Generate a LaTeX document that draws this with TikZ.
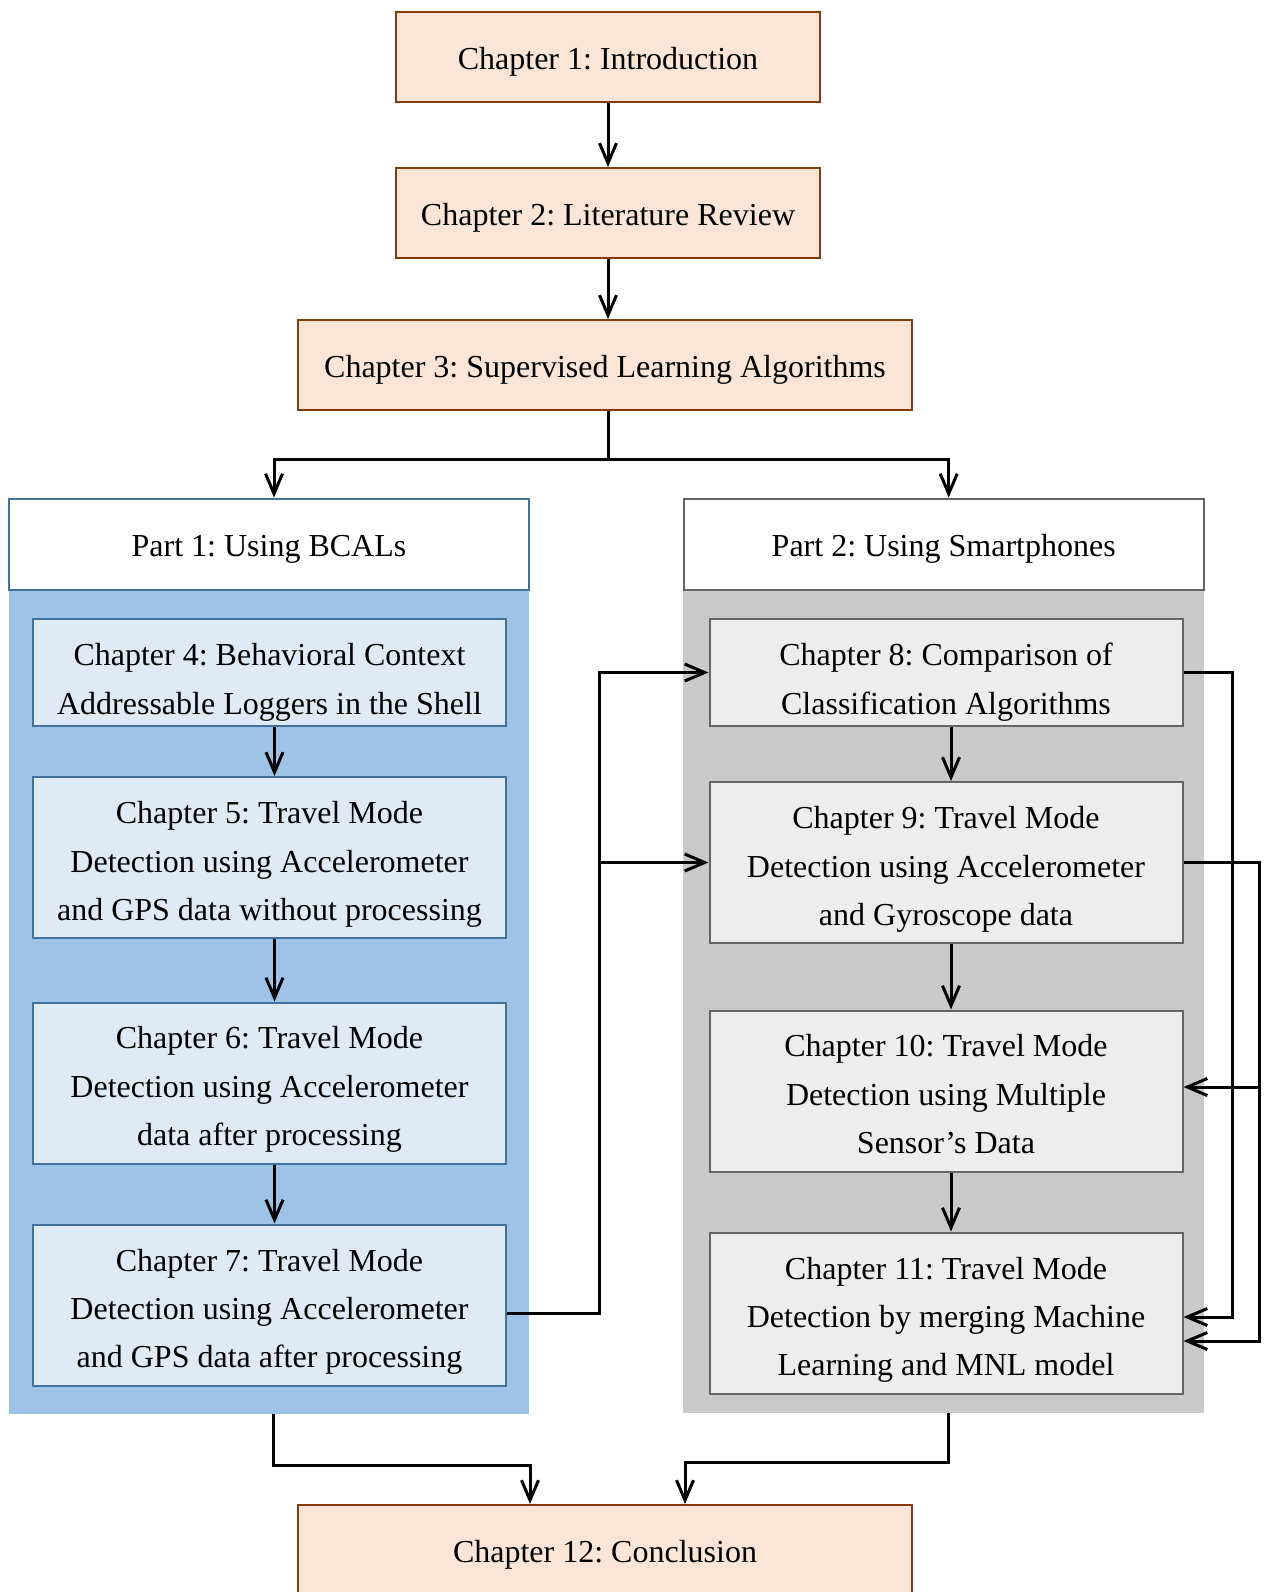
\documentclass[tikz,border=0pt]{standalone}
\usepackage{fontspec}
\setmainfont{Liberation Serif}
\usetikzlibrary{positioning,calc}
\usetikzlibrary{arrows.meta}
\definecolor{PeachFill}{RGB}{251,229,214}
\definecolor{RustLine}{RGB}{132,60,12}
\definecolor{SkyPanel}{RGB}{157,195,230}
\definecolor{SkyFill}{RGB}{222,235,247}
\definecolor{SkyLine}{RGB}{65,113,156}
\definecolor{AshPanel}{RGB}{201,201,201}
\definecolor{AshFill}{RGB}{237,237,237}
\definecolor{AshLine}{RGB}{100,100,100}
\frenchspacing
% first line strut, pushes the text of a box down
\newcommand{\lift}[1]{\rule{0pt}{#1}}
\tikzset{
  chap/.style={draw=RustLine,fill=PeachFill,line width=1pt,minimum height=45pt,
    text height=16pt,text depth=3.5pt,align=center},
  head/.style={fill=white,line width=1pt,minimum width=260pt,minimum height=45.5pt,
    text height=16pt,text depth=3.5pt},
  sub/.style={line width=1pt,minimum width=236.5pt,minimum height=80.5pt,inner sep=0pt,align=center},
  twoline/.style={minimum height=53.5pt},
  panel/.style={draw=none,inner sep=0pt},
  link/.style={draw=black,line width=1.5pt},
  arr/.style={link,-{Straight Barb[length=10pt,width=8.5pt,line width=1.5pt]}},
}

\begin{document}
\begin{tikzpicture}[x=0.5pt,y=-0.5pt,font=\fontsize{16}{24.2}\selectfont]
\useasboundingbox (0,0) rectangle (1265,1592);
% top chapters
\node[chap,minimum width=212pt] (ch1) at (608,57) {Chapter 1: Introduction};
\node[chap,minimum width=212pt] (ch2) at (608,213) {Chapter 2: Literature Review};
\node[chap,minimum width=307pt] (ch3) at (605,365) {Chapter 3: Supervised Learning Algorithms};
% part 1
\node[panel,fill=SkyPanel,minimum width=260pt,minimum height=412pt] (pan1) at (269,1002) {};
\node[head,draw=SkyLine] (part1) at (269,544) {Part 1: Using BCALs};
\node[sub,twoline,draw=SkyLine,fill=SkyFill] (ch4) at (269.5,672.5) {\lift{21pt}Chapter 4: Behavioral Context\\Addressable Loggers in the Shell};
\node[sub,draw=SkyLine,fill=SkyFill] (ch5) at (269.5,857.5) {\lift{18pt}Chapter 5: Travel Mode\\Detection using Accelerometer\\and GPS data without processing};
\node[sub,draw=SkyLine,fill=SkyFill] (ch6) at (269.5,1083) {\lift{17.5pt}Chapter 6: Travel Mode\\Detection using Accelerometer\\data after processing};
\node[sub,draw=SkyLine,fill=SkyFill] (ch7) at (269.5,1305) {\lift{18pt}Chapter 7: Travel Mode\\Detection using Accelerometer\\and GPS data after processing};
% part 2
\node[panel,fill=AshPanel,minimum width=260.5pt,minimum height=411.5pt] (pan2) at (943.7,1001.5) {};
\node[head,draw=AshLine] (part2) at (943.7,544) {Part 2: Using Smartphones};
\node[sub,twoline,draw=AshLine,fill=AshFill] (ch8) at (946,672.5) {\lift{21pt}Chapter 8: Comparison of\\Classification Algorithms};
\node[sub,draw=AshLine,fill=AshFill] (ch9) at (946,862.5) {\lift{18pt}Chapter 9: Travel Mode\\Detection using Accelerometer\\and Gyroscope data};
\node[sub,draw=AshLine,fill=AshFill] (ch10) at (946,1091) {\lift{14.5pt}Chapter 10: Travel Mode\\Detection using Multiple\\Sensor’s Data};
\node[sub,draw=AshLine,fill=AshFill] (ch11) at (946,1313) {\lift{18pt}Chapter 11: Travel Mode\\Detection by merging Machine\\Learning and MNL model};
% conclusion
\node[chap,minimum width=307pt] (ch12) at (605,1550) {Chapter 12: Conclusion};

% connectors
\coordinate (split) at (608,459);
\draw[arr] (ch1) -- (ch2);
\draw[arr] (ch2.south) -- (ch2.south |- ch3.north);
\draw[link] (ch3.south -| split) -- (split);
\draw[arr] (split) -| ([xshift=2.5pt]part1.north);
\draw[arr] (split) -| ([xshift=2.5pt]part2.north);
\draw[arr] ([xshift=2.5pt]ch4.south) -- ([xshift=2.5pt]ch5.north);
\draw[arr] ([xshift=2.5pt]ch5.south) -- ([xshift=2.5pt]ch6.north);
\draw[arr] ([xshift=2.5pt]ch6.south) -- ([xshift=2.5pt]ch7.north);
\draw[arr] ([xshift=2.5pt]ch8.south) -- ([xshift=2.5pt]ch9.north);
\draw[arr] ([xshift=2.5pt]ch9.south) -- ([xshift=2.5pt]ch10.north);
\draw[arr] ([xshift=2.5pt]ch10.south) -- ([xshift=2.5pt]ch11.north);
% cross links
\coordinate (busL) at (599,1313);
\coordinate (busR1) at (1232,0);
\coordinate (busR2) at (1259,0);
\draw[arr] ([yshift=-4pt]ch7.east) -- ([yshift=-4pt]ch7.east -| busL) |- (ch8.west);
\draw[arr] (busL |- ch9.west) -- (ch9.west);
\draw[arr] (ch8.east) -- (ch8.east -| busR1) |- ([yshift=-2pt]ch11.east);
\draw[arr] (ch9.east) -- (ch9.east -| busR2) |- ([yshift=-14pt]ch11.east);
\draw[arr] (busR2 |- ch10.east) ++(0,-4) -- ([yshift=2pt]ch10.east);
% to conclusion
\coordinate (mL) at (530,1465);
\coordinate (mR) at (685,1462);
\draw[arr] ([xshift=2pt]pan1.south) |- (mL) -- (mL |- ch12.north);
\draw[arr] ([xshift=2.5pt]pan2.south) |- (mR) -- (mR |- ch12.north);
\end{tikzpicture}
\end{document}
